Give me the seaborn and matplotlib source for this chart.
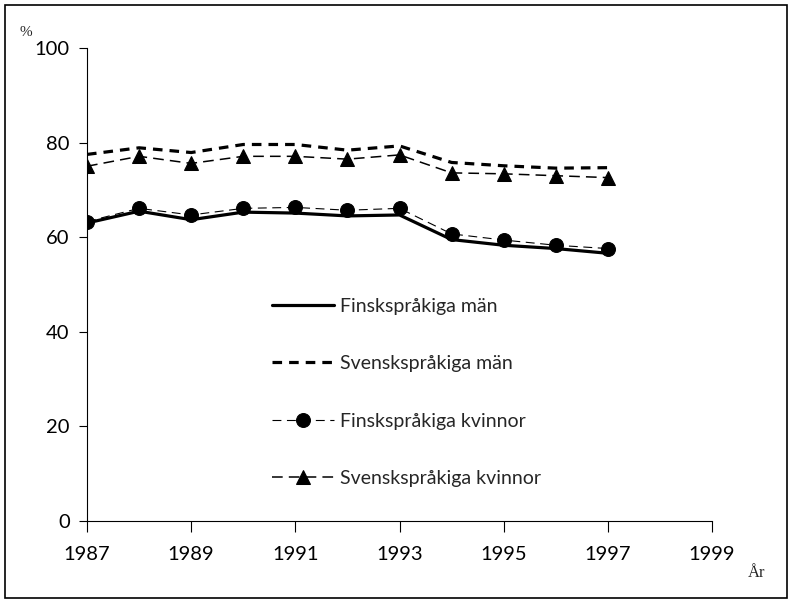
import matplotlib
matplotlib.use("Agg")
import matplotlib.pyplot as plt
import seaborn as sns
import pandas as pd
from matplotlib.patches import Rectangle

years = list(range(1987, 1998))
fin_man = [63.0, 65.5, 63.7, 65.3, 65.1, 64.5, 64.7, 59.5, 58.3, 57.6, 56.6]
sve_man = [77.5, 78.9, 77.9, 79.6, 79.6, 78.4, 79.3, 75.8, 75.1, 74.6, 74.7]
fin_kvinna = [63.3, 66.1, 64.7, 66.1, 66.3, 65.7, 66.1, 60.7, 59.4, 58.3, 57.6]
sve_kvinna = [75.0, 77.1, 75.6, 77.1, 77.1, 76.5, 77.4, 73.6, 73.4, 73.0, 72.6]
x_ticks = [1987, 1989, 1991, 1993, 1995, 1997, 1999]
y_ticks = [0, 20, 40, 60, 80, 100]

sns.set_style("white")
plt.rcParams['font.family'] = ['Lato', 'DejaVu Sans']

fig = plt.figure(figsize=(7.91, 6.04), dpi=100)
ax = fig.add_axes([87 / 791, 1 - 521 / 604, (712 - 87) / 791, (521 - 48) / 604])

df = pd.DataFrame({"year": years, "fm": fin_man, "sm": sve_man,
                   "fk": fin_kvinna, "sk": sve_kvinna})

sns.lineplot(data=df, x="year", y="fm", ax=ax, color="black", lw=2.3,
             linestyle="-", label="Finskspråkiga män")
sns.lineplot(data=df, x="year", y="sm", ax=ax, color="black", lw=2.3,
             linestyle=(0, (3.0, 2.2)), label="Svenskspråkiga män")
sns.lineplot(data=df, x="year", y="fk", ax=ax, color="black", lw=0.8,
             linestyle=(0, (8, 5)), marker="o", markersize=10,
             mec="black", mfc="black", label="Finskspråkiga kvinnor")
sns.lineplot(data=df, x="year", y="sk", ax=ax, color="black", lw=1.1,
             linestyle=(0, (7, 4)), marker="^", markersize=10.5,
             mec="black", mfc="black", label="Svenskspråkiga kvinnor")

ax.set_xlim(1987, 1999)
ax.set_ylim(0, 100)
ax.set_xticks(x_ticks)
ax.set_yticks(y_ticks)
ax.set_xlabel("")
ax.set_ylabel("")
for s in ["top", "right"]:
    ax.spines[s].set_visible(False)
for s in ["left", "bottom"]:
    ax.spines[s].set_color("black")
    ax.spines[s].set_linewidth(0.8)
ax.tick_params(axis="x", direction="out", length=8, width=0.8, pad=10,
               labelsize=14.5, bottom=True, colors="black")
ax.tick_params(axis="y", direction="out", length=5.5, width=0.8, pad=7,
               labelsize=14.5, left=True, colors="black")

leg = ax.legend(loc="upper left", bbox_to_anchor=(272 / 791, 1 - 298 / 604),
                bbox_transform=fig.transFigure, frameon=False, fontsize=14,
                handlelength=3.2, handletextpad=0.3, labelspacing=2.07,
                borderpad=0, borderaxespad=0)

fig.text(20 / 791, 1 - 33 / 604, "%", fontsize=11, family="Liberation Serif",
         ha="left", va="center")
fig.text(757 / 791, 1 - 573 / 604, "År", fontsize=12, family="Liberation Serif",
         ha="center", va="center")

fig.patches.append(Rectangle((5 / 791, 1 - 598 / 604), 782 / 791, 593 / 604,
                             transform=fig.transFigure, fill=False,
                             edgecolor="black", lw=1.2))

fig.savefig("out.png", dpi=100)
